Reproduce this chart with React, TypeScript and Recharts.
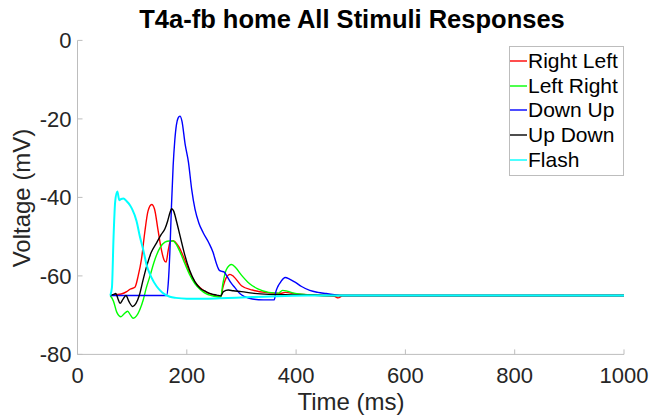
// T4a-fb voltage responses to all stimuli, MATLAB-style line plot
import React from "react"
import { LineChart, Line, XAxis, YAxis, Legend } from "recharts"

const FONT = "'Liberation Sans', Arial, Helvetica, sans-serif"
const AXIS_GRAY = "#bdbdbd"
const TICK_COLOR = "#262626"

const xTicks = [0, 200, 400, 600, 800, 1000]
const yTicks = [-80, -60, -40, -20, 0]

const seriesNames = ["Right Left", "Left Right", "Down Up", "Up Down", "Flash"]
const seriesColors = ["#ff0000", "#00ff00", "#0000ff", "#000000", "#00ffff"]

// Right Left (red)
const rightLeftT = [60, 70, 80, 90, 96, 105, 111, 117, 123, 129, 135.7, 141, 147, 153, 158, 162, 166, 170, 175, 185, 195, 205, 215, 225, 235, 245, 255, 262, 266, 272, 279, 286, 300, 320, 350, 370, 380, 400, 450, 470, 477, 485, 1000]
const rightLeftV = [-65, -64.8, -64.6, -64, -63.4, -62.9, -60, -55.8, -49, -43.5, -41.8, -43, -48, -53, -55.8, -56.5, -53.5, -51.2, -51, -52.5, -55.5, -59, -61.6, -63.1, -64.1, -64.7, -65.2, -65.4, -63, -60.5, -59.6, -60.2, -62.5, -63.6, -64.3, -64.5, -64.2, -64.6, -65, -65.2, -65.6, -65.1, -65]

// Left Right (green)
const leftRightT = [60, 66, 72, 79.6, 85, 91.8, 97, 102, 108, 114, 120.5, 126, 132.7, 140, 151, 160, 168, 175, 181, 188, 196, 205, 215, 225, 235, 245, 255, 262, 266, 272, 282, 290, 300, 315, 330, 350, 368, 375, 382, 396, 420, 450, 480, 1000]
const leftRightV = [-65, -66.5, -69.3, -70.4, -69.7, -69, -70, -70.8, -70.2, -68.6, -66, -63, -60, -56.5, -52.8, -51.4, -51.1, -51.1, -52, -54, -56.7, -59.6, -62, -63.5, -64.5, -65, -65.3, -65.4, -62, -58.5, -57.1, -58, -59.8, -62, -63.3, -64.2, -64.4, -63.7, -63.8, -64.4, -64.8, -65, -65, -65]

// Down Up (blue)
const downUpT = [60, 163, 166, 169, 172, 175, 178, 181, 184, 187.5, 191, 197, 203, 209, 215, 222, 230, 240, 248, 254, 259, 263, 268, 274, 281, 288, 297, 306, 320, 340, 360, 363, 367, 372, 380, 388, 398, 410, 425, 440, 455, 470, 480, 1000]
const downUpV = [-65, -65, -62, -54, -42, -32, -25.5, -21.5, -19.8, -19.3, -20.5, -26.5, -31, -38, -43, -46.5, -49, -51.5, -54, -56.8, -58.5, -58.8, -59, -60.2, -61.8, -63, -64.5, -65.3, -65.9, -66.1, -66.1, -64, -62.6, -61.5, -60.4, -60.8, -61.6, -62.7, -63.7, -64.2, -64.5, -64.8, -65, -65]

// Up Down (black)
const upDownT = [60, 66, 70, 74, 77.8, 83, 88.7, 94, 101, 107, 113, 120, 126.6, 135, 145, 153, 160, 165, 169, 172.3, 176, 181, 188, 196, 205, 215, 225, 235, 245, 255, 262, 267, 276, 285, 300, 320, 350, 380, 420, 460, 1000]
const upDownV = [-65, -64.7, -64.5, -65.8, -67, -66, -65, -66.5, -67.8, -67, -65, -61, -57.5, -54, -51.5, -49.5, -48, -46, -44, -42.9, -43.5, -46, -50, -54.5, -58.5, -61.5, -63.2, -64, -64.6, -64.9, -65.1, -64, -63.6, -63.8, -64, -64.4, -64.7, -64.8, -64.9, -65, -65]

// Flash (cyan)
const flashT = [60, 63, 66, 69, 72.9, 76.5, 80, 84, 90, 96, 100, 108, 114, 120, 127, 135, 145, 155, 169, 180, 200, 230, 260, 300, 340, 380, 420, 1000]
const flashV = [-65, -63, -50, -41, -38.5, -40.7, -40.4, -40.3, -41, -42, -43, -46, -49.9, -53.2, -57.5, -60.3, -62.7, -64.2, -65.3, -65.6, -65.8, -65.8, -65.7, -65.5, -65.3, -65.1, -65, -65]

const toPoints = (t: number[], v: number[]) => t.map((x, i) => ({ t: x, v: v[i] }))

const series = [
  toPoints(rightLeftT, rightLeftV),
  toPoints(leftRightT, leftRightV),
  toPoints(downUpT, downUpV),
  toPoints(upDownT, upDownV),
  toPoints(flashT, flashV),
]

const renderLegend = () => (
  <div
    style={{
      boxSizing: "border-box",
      width: 115,
      border: `1px solid ${AXIS_GRAY}`,
      background: "#fff",
      padding: "2px 0 3px 0",
      fontFamily: FONT,
      fontSize: 21,
      color: "#000",
    }}
  >
    {seriesNames.map((name, i) => (
      <div key={name} style={{ display: "flex", alignItems: "center", height: 24.6, whiteSpace: "nowrap" }}>
        <svg width={17} height={4} style={{ marginRight: 1, display: "block" }}>
          <line x1={0} y1={2} x2={17} y2={2} stroke={seriesColors[i]} strokeWidth={1.4} />
        </svg>
        <span>{name}</span>
      </div>
    ))}
  </div>
)

export default function App() {
  const tickStyle = { fontSize: 22, fill: TICK_COLOR, fontFamily: FONT }
  return (
    <div style={{ position: "absolute", left: 0, top: 0, width: 653, height: 418, background: "#fff" }}>
      <LineChart width={653} height={418} margin={{ top: 40.4, right: 29, bottom: 13.6, left: 0 }}>
        <XAxis
          dataKey="t"
          type="number"
          domain={[0, 1000]}
          ticks={xTicks}
          height={50}
          tickSize={-5}
          tickMargin={17.6}
          tick={tickStyle}
          stroke={AXIS_GRAY}
          tickLine={{ stroke: AXIS_GRAY }}
          allowDataOverflow
        />
        <XAxis
          xAxisId="top"
          orientation="top"
          type="number"
          domain={[0, 1000]}
          ticks={xTicks}
          height={0}
          tickSize={-5}
          tick={false}
          stroke={AXIS_GRAY}
          allowDataOverflow
        />
        <YAxis
          type="number"
          domain={[-80, 0]}
          ticks={yTicks}
          width={77.5}
          tickSize={-5}
          tickMargin={11}
          tick={tickStyle}
          stroke={AXIS_GRAY}
          tickLine={{ stroke: AXIS_GRAY }}
          allowDataOverflow
        />
        <YAxis
          yAxisId="right"
          orientation="right"
          type="number"
          domain={[-80, 0]}
          ticks={yTicks}
          width={0}
          tickSize={-5}
          tick={false}
          stroke={AXIS_GRAY}
          allowDataOverflow
        />
        <Legend
          layout="vertical"
          align="center"
          verticalAlign="middle"
          content={renderLegend}
          wrapperStyle={{ left: 509, top: 46, width: 115, height: "auto" }}
        />
        {series.map((data, i) => (
          <Line
            key={seriesNames[i]}
            name={seriesNames[i]}
            data={data}
            dataKey="v"
            type="monotone"
            stroke={seriesColors[i]}
            strokeWidth={i === 4 ? 2 : 1.4}
            dot={false}
            activeDot={false}
            isAnimationActive={false}
          />
        ))}
      </LineChart>
      <svg
        width={653}
        height={418}
        style={{ position: "absolute", left: 0, top: 0, pointerEvents: "none" }}
      >
        <text x={352} y={28} textAnchor="middle" fontFamily={FONT} fontSize={25.5} fontWeight="bold" fill="#000">
          T4a-fb home All Stimuli Responses
        </text>
        <text x={351} y={410} textAnchor="middle" fontFamily={FONT} fontSize={24} fill={TICK_COLOR}>
          Time (ms)
        </text>
        <text
          x={30}
          y={198}
          textAnchor="middle"
          fontFamily={FONT}
          fontSize={24}
          fill={TICK_COLOR}
          transform="rotate(-90 30 198)"
        >
          Voltage (mV)
        </text>
      </svg>
    </div>
  )
}
